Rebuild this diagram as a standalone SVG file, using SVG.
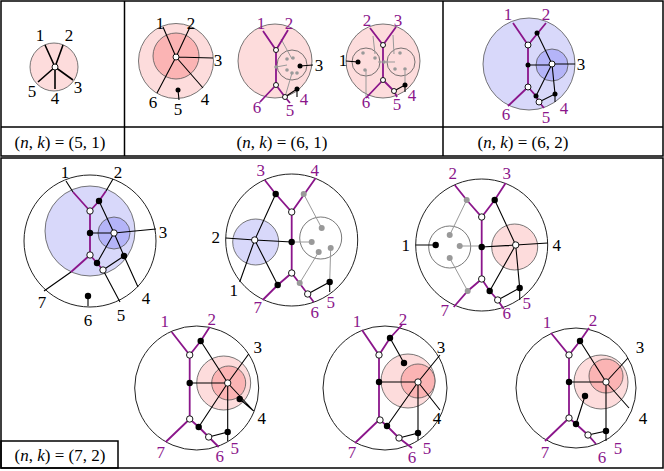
<svg xmlns="http://www.w3.org/2000/svg" width="664" height="471" viewBox="0 0 664 471">
<style>
.c{fill:none;stroke:#222;stroke-width:1}
.ci{stroke:#555;stroke-width:0.8}
.p{stroke:#8b168b;stroke-width:1.8;fill:none}
.k{stroke:#000;stroke-width:1.1;fill:none}
.kt{stroke:#000;stroke-width:1.6;fill:none}
.g{stroke:#999;stroke-width:1;fill:none}
.w{fill:#fff;stroke:#000;stroke-width:0.9}
.b{fill:#000}
.gd{fill:#999}
.frame{fill:none;stroke:#000;stroke-width:1.5}
text{font-family:"Liberation Serif","DejaVu Serif",serif;font-size:17px;text-anchor:middle;dominant-baseline:central;fill:#000}
.tp{fill:#8b168b}
.sm{font-size:15px}
</style>
<rect width="664" height="471" fill="#fff"/>
<g id="table">
<rect class="frame" x="1" y="1" width="662" height="155"/>
<line class="frame" x1="1" y1="127" x2="663" y2="127"/>
<line class="frame" x1="124.5" y1="1" x2="124.5" y2="156"/>
<line class="frame" x1="443" y1="1" x2="443" y2="156"/>
<rect class="frame" x="1" y="158" width="662" height="310"/>
<rect class="frame" x="1" y="441" width="117" height="27"/>
<text x="60" y="142">(<tspan font-style="italic">n</tspan>, <tspan font-style="italic">k</tspan>) = (5, 1)</text>
<text x="282" y="142">(<tspan font-style="italic">n</tspan>, <tspan font-style="italic">k</tspan>) = (6, 1)</text>
<text x="523" y="142">(<tspan font-style="italic">n</tspan>, <tspan font-style="italic">k</tspan>) = (6, 2)</text>
<text x="60" y="455">(<tspan font-style="italic">n</tspan>, <tspan font-style="italic">k</tspan>) = (7, 2)</text>
</g>

<g id="d51">
<circle cx="54" cy="67" r="24" fill="#fddcdc" class="ci"/>
<g class="kt"><path d="M55,67L45,45M55,67L63,45M55,67L73,80M55,67L38,82M55,67L55,89"/></g>
<circle class="w" cx="55" cy="67" r="3"/>
<g class="sm"><text x="40" y="35">1</text><text x="69" y="35">2</text><text x="78" y="87">3</text><text x="32" y="91">5</text><text x="55" y="98">4</text></g>
</g>

<g id="d61a">
<circle cx="176" cy="61" r="37.5" fill="#fddcdc" class="ci"/>
<circle cx="176" cy="56" r="23" fill="#fbb4b4" class="ci"/>
<g class="k"><path d="M176,57L163,27M176,57L190,27M176,57L213,58M176,57L157,93M176,57L203,88M178,90L179,100"/></g>
<circle class="w" cx="176" cy="57" r="3"/><circle class="b" cx="178" cy="90" r="2.5"/>
<g class="sm"><text x="160" y="23">1</text><text x="191" y="23">2</text><text x="218" y="60">3</text><text x="153" y="102">6</text><text x="178" y="109">5</text><text x="205" y="99">4</text></g>
</g>

<g id="d61b" transform="translate(275,61)">
<circle r="37" fill="#fddcdc" class="ci"/>
<circle cx="17" cy="4" r="15" fill="none" class="ci"/>
<g class="g" stroke-width="0.7"><path d="M6,-22L17,-2M1,6L12,4M17,12L10,36M-3,-17L-3,-17"/></g>
<g class="p" stroke-width="1.4"><path d="M-12,-30L1,-11L13,-31M1,-11V24L-15,41M1,24L10,36L15,42"/></g>
<g class="k"><path d="M25,5L38,4M22,28L10,36M22,28L22,36"/></g>
<circle class="gd" cx="1" cy="6" r="1.8"/><circle class="gd" cx="12" cy="-2" r="1.8"/><circle class="gd" cx="18" cy="-3" r="1.8"/><circle class="gd" cx="12" cy="9" r="1.8"/><circle class="gd" cx="17" cy="12" r="1.8"/><circle class="gd" cx="22" cy="12" r="1.8"/>
<circle class="w" cx="1" cy="-11" r="2.5"/><circle class="w" cx="1" cy="24" r="2.5"/><circle class="w" cx="10" cy="36" r="2.5"/>
<circle class="b" cx="25" cy="5" r="2.5"/><circle class="b" cx="22" cy="28" r="2.5"/>
<g class="sm"><text class="tp" x="-14" y="-38">1</text><text class="tp" x="14" y="-38">2</text><text x="44" y="4">3</text><text class="tp" x="-18" y="46">6</text><text class="tp" x="15" y="49">5</text><text class="tp" x="29" y="38">4</text></g>
</g>

<g id="d61c" transform="translate(383,61)">
<circle r="37" fill="#fddcdc" class="ci"/>
<circle cx="-17" cy="1" r="14" fill="none" class="ci"/><circle cx="18" cy="1" r="14" fill="none" class="ci"/>
<g class="g" stroke-width="0.7"><path d="M-10,-25L-8,-7M-17,9L-17,37M1,1H-5M1,1H12M10,-26L11,-7M22,10L22,24"/></g>
<g class="p" stroke-width="1.4"><path d="M-13,-33L0,-16L13,-34M0,-16V19L-17,37M0,19L11,30L14,36"/></g>
<g class="k"><path d="M-25,1L-37,0M22,24L11,30M22,24L22,31"/></g>
<circle class="gd" cx="-20" cy="-8" r="1.8"/><circle class="gd" cx="-8" cy="-3" r="1.8"/><circle class="gd" cx="-18" cy="9" r="1.8"/><circle class="gd" cx="1" cy="1" r="1.8"/>
<circle class="gd" cx="17" cy="-8" r="1.8"/><circle class="gd" cx="12" cy="8" r="1.8"/><circle class="gd" cx="22" cy="8" r="1.8"/>
<circle class="w" cx="0" cy="-16" r="2.5"/><circle class="w" cx="0" cy="19" r="2.5"/><circle class="w" cx="11" cy="30" r="2.5"/>
<circle class="b" cx="-25" cy="1" r="2.5"/><circle class="b" cx="22" cy="24" r="2.5"/>
<g class="sm"><text class="tp" x="-16" y="-41">2</text><text class="tp" x="15" y="-41">3</text><text x="-40" y="-1">1</text><text class="tp" x="-17" y="41">6</text><text class="tp" x="14" y="43">5</text><text class="tp" x="29" y="34">4</text></g>
</g>

<g id="d62" transform="translate(529,64)">
<circle r="46" fill="#d8d8fa" class="ci"/>
<circle cx="23" cy="1" r="16" fill="#b4b4f8" class="ci"/>
<g class="p"><path d="M-16,-41L-1,-19L17,-41M-1,-19V23L-21,42M-1,23L7,32L10,38L15,44"/></g>
<g class="k"><path d="M-1,1H23M8,-31L23,0L46,0M23,0L7,32M23,0L26,30L10,38M26,30V38"/></g>
<circle class="w" cx="-1" cy="-19" r="3"/><circle class="w" cx="-1" cy="23" r="3"/><circle class="w" cx="10" cy="38" r="3"/><circle class="w" cx="23" cy="0" r="3"/>
<circle class="b" cx="8" cy="-31" r="2.5"/><circle class="b" cx="-1" cy="1" r="2.5"/><circle class="b" cx="7" cy="32" r="2.5"/><circle class="b" cx="26" cy="30" r="2.5"/>
<text class="tp" x="-21" y="-50">1</text><text class="tp" x="17" y="-50">2</text><text x="52" y="0">3</text><text class="tp" x="-23" y="50">6</text><text class="tp" x="17" y="53">5</text><text class="tp" x="35" y="44">4</text>
</g>

<g id="dA" transform="translate(90,241)">
<circle r="66" class="c"/>
<circle cy="-10" r="45" fill="#d8d8fa" class="ci"/>
<circle cx="24" cy="-8" r="16" fill="#b4b4f8" class="ci"/>
<g class="p"><path d="M-17,-49L0,-30L9,-40L16,-50M0,-30V14L-19,31M0,14L7,22L13,29"/></g>
<g class="k"><path d="M-24,-60L-17,-49M23,-62L16,-50M-19,31L-46,50M0,-8H24L66,-12M9,-40L24,-8L34,15L48,46M24,-8L7,22M13,29L34,15M13,29L30,61M-2,55V65"/></g>
<circle class="w" cx="0" cy="-30" r="3.2"/><circle class="w" cx="0" cy="14" r="3.2"/><circle class="w" cx="13" cy="29" r="3.2"/><circle class="w" cx="24" cy="-8" r="3.2"/>
<circle class="b" cx="9" cy="-40" r="3.2"/><circle class="b" cx="0" cy="-8" r="3.2"/><circle class="b" cx="34" cy="15" r="3.2"/><circle class="b" cx="7" cy="22" r="3.2"/><circle class="b" cx="-2" cy="55" r="3.2"/>
<text x="-25" y="-69">1</text><text x="28" y="-69">2</text><text x="73" y="-9">3</text><text x="-48" y="61">7</text><text x="-2" y="79">6</text><text x="31" y="74">5</text><text x="56" y="57">4</text>
</g>

<g id="dB" transform="translate(291.7,240)">
<circle r="66" class="c"/>
<circle cx="-36" cy="2" r="23" fill="#d8d8fa" class="ci"/>
<circle cx="29" cy="-2" r="21" fill="none" class="ci"/>
<g class="g"><path d="M12,-46L30,-12M0,2H20M27,12L8,43M39,8L38,42"/></g>
<g class="p"><path d="M-27,-60L-16,-46L0,-28L24,-62M0,-28V33L-14,45L-29,60M0,33L16,54L22,62"/></g>
<g class="k"><path d="M-66,-2L-37,0L-16,-46M-37,0L0,2M-37,0L-52,42M-37,0L-14,45M16,54L38,42L38,52"/></g>
<circle class="gd" cx="12" cy="-46" r="3"/><circle class="gd" cx="30" cy="-12" r="3"/><circle class="gd" cx="20" cy="2" r="3"/><circle class="gd" cx="27" cy="12" r="3"/><circle class="gd" cx="39" cy="8" r="3"/><circle class="gd" cx="8" cy="43" r="3"/>
<circle class="w" cx="0" cy="-28" r="3.2"/><circle class="w" cx="0" cy="33" r="3.2"/><circle class="w" cx="16" cy="54" r="3.2"/><circle class="w" cx="-37" cy="0" r="3.2"/>
<circle class="b" cx="-16" cy="-46" r="3.2"/><circle class="b" cx="0" cy="2" r="3.2"/><circle class="b" cx="-14" cy="45" r="3.2"/><circle class="b" cx="38" cy="42" r="3.2"/>
<text class="tp" x="-31" y="-70">3</text><text class="tp" x="23" y="-70">4</text><text x="-76" y="-3">2</text><text x="-58" y="50">1</text><text class="tp" x="-34" y="67">7</text><text class="tp" x="23" y="72">6</text><text class="tp" x="39" y="62">5</text>
</g>

<g id="dC" transform="translate(481.7,245)">
<circle r="66" class="c"/>
<circle cx="-32" cy="2" r="21" fill="none" class="ci"/>
<circle cx="33" cy="2" r="23" fill="#fddcdc" class="ci"/>
<g class="g"><path d="M-15,-45L-32,-10M-22,1H0M-32,13L-14,46"/></g>
<g class="p"><path d="M-27,-60L-15,-45L0,-28L13,-45L24,-62M0,-28V34L-14,46L-28,62M0,34L8,46L16,55L22,64"/></g>
<g class="k"><path d="M-66,0H-46M0,2L34,0L66,-2M34,0L13,-45M34,0L8,46M34,0L38,43L16,55M38,43V55"/></g>
<circle class="gd" cx="-15" cy="-45" r="3"/><circle class="gd" cx="-32" cy="-10" r="3"/><circle class="gd" cx="-22" cy="1" r="3"/><circle class="gd" cx="-32" cy="13" r="3"/><circle class="gd" cx="-14" cy="46" r="3"/>
<circle class="w" cx="0" cy="-28" r="3.2"/><circle class="w" cx="0" cy="34" r="3.2"/><circle class="w" cx="16" cy="55" r="3.2"/><circle class="w" cx="34" cy="0" r="3.2"/>
<circle class="b" cx="13" cy="-45" r="3.2"/><circle class="b" cx="0" cy="2" r="3.2"/><circle class="b" cx="-46" cy="0" r="3.2"/><circle class="b" cx="8" cy="46" r="3.2"/><circle class="b" cx="38" cy="43" r="3.2"/>
<text class="tp" x="-29" y="-72">2</text><text class="tp" x="25" y="-72">3</text><text x="-76" y="0">1</text><text x="75" y="0">4</text><text class="tp" x="-37" y="65">7</text><text class="tp" x="25" y="68">6</text><text class="tp" x="45" y="58">5</text>
</g>

<g id="dD" transform="translate(196.7,388)">
<circle r="62" class="c"/>
<circle cx="27" cy="-5" r="27" fill="#fddcdc" class="ci"/>
<circle cx="32" cy="-5" r="17" fill="#fbb4b4" class="ci"/>
<g class="p"><path d="M-25,-56L-7,-33L4,-47L13,-61M-7,-33V31L-31,54M-7,31L2,39L12,49L22,59"/></g>
<g class="k"><path d="M-7,-5H31L4,-47M31,-5L52,-34M31,-5L57,23M31,-5L2,39M31,-5V44L12,49M31,44V53M43,11L57,23"/></g>
<circle class="w" cx="-7" cy="-33" r="3.2"/><circle class="w" cx="-7" cy="31" r="3.2"/><circle class="w" cx="12" cy="49" r="3.2"/><circle class="w" cx="31" cy="-5" r="3.2"/>
<circle class="b" cx="4" cy="-47" r="3.2"/><circle class="b" cx="-7" cy="-5" r="3.2"/><circle class="b" cx="2" cy="39" r="3.2"/><circle class="b" cx="31" cy="44" r="3.2"/><circle class="b" cx="43" cy="11" r="3.2"/>
<text class="tp" x="-32" y="-67">1</text><text class="tp" x="15" y="-69">2</text><text x="61" y="-41">3</text><text x="65" y="30">4</text><text class="tp" x="-36" y="64">7</text><text class="tp" x="23" y="68">6</text><text class="tp" x="38" y="60">5</text>
</g>

<g id="dE" transform="translate(385,388)">
<circle r="62" class="c"/>
<circle cx="23" cy="-7" r="27" fill="#fddcdc" class="ci"/>
<circle cx="33" cy="-7" r="17" fill="#fbb4b4" class="ci"/>
<g class="p"><path d="M-23,-58L-6,-33L5,-50L17,-63M-6,-33V32L-30,55M-5,32L2,38L14,50L27,60"/></g>
<g class="k"><path d="M5,-50L19,-25M-6,-6L33,-6L55,-33M33,-6L55,22M33,-6L2,38M33,-6V45L14,50M33,45V52"/></g>
<circle class="w" cx="-6" cy="-33" r="3.2"/><circle class="w" cx="-5" cy="32" r="3.2"/><circle class="w" cx="14" cy="50" r="3.2"/><circle class="w" cx="33" cy="-6" r="3.2"/>
<circle class="b" cx="5" cy="-50" r="3.2"/><circle class="b" cx="19" cy="-25" r="3.2"/><circle class="b" cx="-6" cy="-6" r="3.2"/><circle class="b" cx="2" cy="38" r="3.2"/><circle class="b" cx="33" cy="45" r="3.2"/>
<text class="tp" x="-28" y="-67">1</text><text class="tp" x="18" y="-69">2</text><text x="56" y="-41">3</text><text x="52" y="30">4</text><text class="tp" x="-33" y="64">7</text><text class="tp" x="27" y="69">6</text><text class="tp" x="42" y="60">5</text>
</g>

<g id="dF" transform="translate(576,388)">
<circle r="60" class="c"/>
<circle cx="25" cy="-6" r="27" fill="#fddcdc" class="ci"/>
<circle cx="30" cy="-12" r="17" fill="#fbb4b4" class="ci"/>
<g class="p"><path d="M-25,-55L-7,-33L4,-47L13,-60M-7,-33V30L-31,53M-7,30L0,36L12,47L20,56"/></g>
<g class="k"><path d="M-7,-6L30,-6L4,-47M30,-6L52,-30M30,-6L53,20M30,-6V43L12,47M30,43V53M9,8L0,36"/></g>
<circle class="w" cx="-7" cy="-33" r="3.2"/><circle class="w" cx="-7" cy="30" r="3.2"/><circle class="w" cx="12" cy="47" r="3.2"/><circle class="w" cx="30" cy="-6" r="3.2"/>
<circle class="b" cx="4" cy="-47" r="3.2"/><circle class="b" cx="-7" cy="-6" r="3.2"/><circle class="b" cx="0" cy="36" r="3.2"/><circle class="b" cx="9" cy="8" r="3.2"/><circle class="b" cx="30" cy="43" r="3.2"/>
<text class="tp" x="-29" y="-66">1</text><text class="tp" x="17" y="-68">2</text><text x="64" y="-41">3</text><text x="67" y="30">4</text><text class="tp" x="-31" y="64">7</text><text class="tp" x="26" y="69">6</text><text class="tp" x="42" y="60">5</text>
</g>
</svg>
